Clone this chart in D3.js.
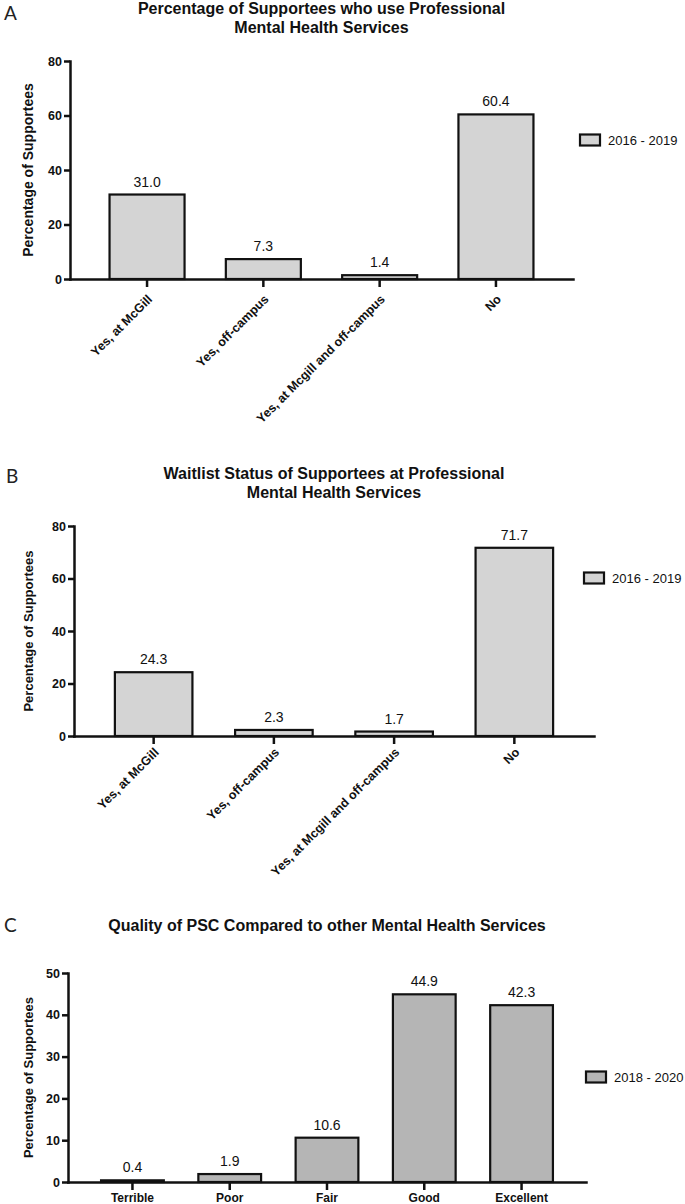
<!DOCTYPE html>
<html>
<head>
<meta charset="utf-8">
<script src="https://cdn.jsdelivr.net/npm/d3@7"></script>
<style>
  body { margin: 0; background: #fff; }
  svg { display: block; font-family: "Liberation Sans", Arial, Helvetica, sans-serif; }
  .domain { stroke: #111; stroke-width: 2.5; stroke-linecap: square; }
  .tick line { stroke: #111; stroke-width: 2.5; }
  .tick text { fill: #111; font-weight: bold; }
</style>
</head>
<body>
<div id="chart"></div>
<script>
// ---- data ----
const serviceCats = ["Yes, at McGill", "Yes, off-campus", "Yes, at Mcgill and off-campus", "No"];
const useValues = [31.0, 7.3, 1.4, 60.4];
const waitlistValues = [24.3, 2.3, 1.7, 71.7];

const qualityCats = ["Terrible", "Poor", "Fair", "Good", "Excellent"];
const qualityValues = [0.4, 1.9, 10.6, 44.9, 42.3];

const yTicksAB = [0, 20, 40, 60, 80];
const yTicksC = [0, 10, 20, 30, 40, 50];

const legendA = "2016 - 2019";
const legendB = "2016 - 2019";
const legendC = "2018 - 2020";

const titleA = ["Percentage of Supportees who use Professional", "Mental Health Services"];
const titleB = ["Waitlist Status of Supportees at Professional", "Mental Health Services"];
const titleC = ["Quality of PSC Compared to other Mental Health Services"];

const yTitle = "Percentage of Supportees";

var svg = d3.select("#chart")
    .append("svg")
    .attr("width", 685)
    .attr("height", 1204);

// one bar panel (prism style)
function drawPanel(p) {
    var g = svg.append("g");

    // panel letter
    g.append("text")
        .attr("x", p.letterX)
        .attr("y", p.letterY)
        .style("font-family", "Lato, 'Open Sans', sans-serif")
        .style("font-size", "19px")
        .style("fill", "#222")
        .text(p.letter);

    // title
    p.title.forEach(function(line, i) {
        g.append("text")
            .attr("x", (p.x0 + p.x1) / 2)
            .attr("y", p.titleY + i * 19)
            .attr("text-anchor", "middle")
            .style("font-size", "16px")
            .style("font-weight", "bold")
            .style("fill", "#111")
            .text(line);
    });

    var x = d3.scaleBand()
        .domain(p.cats)
        .range([p.x0, p.x1])
        .paddingInner(0.355)
        .paddingOuter(0.34);

    var y = d3.scaleLinear()
        .domain([0, p.max])
        .range([p.yBottom, p.yTop]);

    // bars
    g.selectAll(".bar")
        .data(p.values)
        .enter()
        .append("rect")
        .attr("class", "bar")
        .attr("x", function(d, i) { return x(p.cats[i]); })
        .attr("width", x.bandwidth())
        .attr("y", function(d) { return y(d); })
        .attr("height", function(d) { return y(0) - y(d); })
        .style("fill", p.fill)
        .style("stroke", "#111")
        .style("stroke-width", 2.2);

    // value labels
    g.selectAll(".val")
        .data(p.values)
        .enter()
        .append("text")
        .attr("class", "val")
        .attr("x", function(d, i) { return x(p.cats[i]) + x.bandwidth() / 2; })
        .attr("y", function(d) { return y(d) - 8; })
        .attr("text-anchor", "middle")
        .style("font-size", "14px")
        .style("fill", "#111")
        .text(function(d) { return d.toFixed(1); });

    // y axis
    var yAxis = g.append("g")
        .attr("transform", "translate(" + p.x0 + ",0)")
        .call(d3.axisLeft(y).tickValues(p.yTicks).tickSize(6).tickPadding(2).tickSizeOuter(0));
    yAxis.selectAll(".tick text").style("font-size", "12.5px");

    // x axis
    var xAxis = g.append("g")
        .attr("transform", "translate(0," + p.yBottom + ")")
        .call(d3.axisBottom(x).tickSize(8).tickPadding(3.5).tickSizeOuter(0));

    if (p.rotate) {
        xAxis.selectAll(".tick text")
            .attr("x", 0)
            .attr("y", 0)
            .attr("dy", 0)
            .attr("text-anchor", "end")
            .attr("transform", "translate(6," + (p.labelOff + 6) + ") rotate(-45)")
            .style("font-size", "12.5px");
    } else {
        xAxis.selectAll(".tick text").style("font-size", "12px");
    }

    // y title
    g.append("text")
        .attr("transform", "translate(33," + (p.yTop + p.yBottom) / 2 + ") rotate(-90)")
        .attr("text-anchor", "middle")
        .style("font-size", p.yTitleSize + "px")
        .style("font-weight", "bold")
        .style("fill", "#111")
        .text(yTitle);

    // legend
    g.append("rect")
        .attr("x", p.legX)
        .attr("y", p.legY - 5.5)
        .attr("width", 20)
        .attr("height", 11)
        .style("fill", p.fill)
        .style("stroke", "#111")
        .style("stroke-width", 2.2);

    g.append("text")
        .attr("x", p.legX + 28)
        .attr("y", p.legY + 4.5)
        .style("font-size", "13px")
        .style("fill", "#111")
        .text(p.legend);
}

drawPanel({
    letter: "A", letterX: 4, letterY: 20,
    title: titleA, titleY: 14,
    cats: serviceCats, values: useValues, yTicks: yTicksAB, max: 80,
    x0: 70, x1: 573, yTop: 61, yBottom: 279,
    fill: "#d4d4d4", rotate: true, labelOff: 15,
    yTitleSize: 14,
    legX: 580, legY: 140, legend: legendA
});

drawPanel({
    letter: "B", letterX: 6, letterY: 483,
    title: titleB, titleY: 479,
    cats: serviceCats, values: waitlistValues, yTicks: yTicksAB, max: 80,
    x0: 74, x1: 594, yTop: 526, yBottom: 736,
    fill: "#d4d4d4", rotate: true, labelOff: 11,
    yTitleSize: 13,
    legX: 584, legY: 578, legend: legendB
});

drawPanel({
    letter: "C", letterX: 4, letterY: 932,
    title: titleC, titleY: 931,
    cats: qualityCats, values: qualityValues, yTicks: yTicksC, max: 50,
    x0: 68, x1: 586, yTop: 973, yBottom: 1182,
    fill: "#b5b5b5", rotate: false, labelOff: 0,
    yTitleSize: 13,
    legX: 586, legY: 1077, legend: legendC
});
</script>
</body>
</html>
